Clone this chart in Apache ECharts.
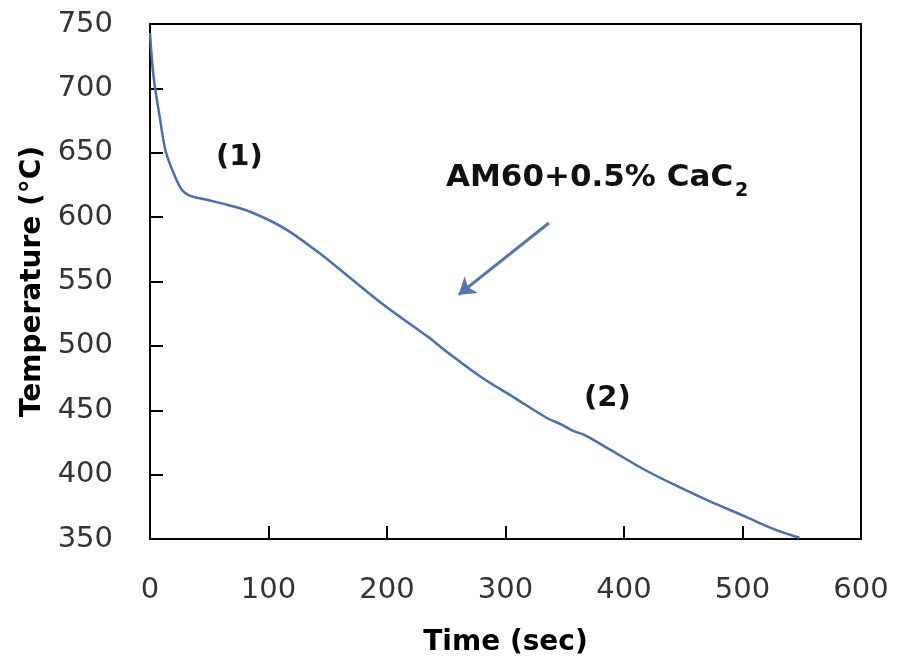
<!DOCTYPE html>
<html>
<head>
<meta charset="utf-8">
<script src="https://cdn.jsdelivr.net/npm/echarts@6/dist/echarts.min.js"></script>
<style>html,body{margin:0;padding:0;background:#fff;}#c{width:899px;height:666px;}</style>
</head>
<body>
<div id="c"></div>
<script>
const timeSec = [0, 2, 4, 8, 13, 20, 27, 34, 48, 65, 85, 113, 141, 169, 197, 234, 251, 279, 307, 335, 347, 357, 366, 389, 417, 445, 473, 501, 527, 548];
const tempC   = [743, 718, 702, 679, 652, 634, 621, 616.5, 613.5, 609.6, 604, 591.5, 573.4, 552.7, 532, 507.4, 495, 476, 460, 444, 439, 434, 431, 419, 404, 391, 379, 368, 357.5, 351];
const xTicks = [0, 100, 200, 300, 400, 500, 600];
const yTicks = [350, 400, 450, 500, 550, 600, 650, 700, 750];
const arrowFrom = [336.6, 595.4];
const arrowTo = [260.5, 539.8];

const chart = echarts.init(document.getElementById('c'), null, {renderer: 'canvas'});
const font = '"DejaVu Sans", sans-serif';
function txt(text, size) {
  return {text: text, fontFamily: font, fontWeight: 'bold', fontSize: size, fill: '#111'};
}
chart.setOption({
  animation: false,
  backgroundColor: '#fff',
  grid: {left: 150, right: 38, top: 24, bottom: 127, show: true, borderColor: '#000', borderWidth: 2, backgroundColor: 'transparent'},
  xAxis: {
    type: 'value', min: xTicks[0], max: xTicks[xTicks.length - 1], interval: 100,
    name: 'Time (sec)', nameLocation: 'middle', nameGap: 90,
    nameTextStyle: {fontFamily: font, fontWeight: 'bold', fontSize: 28, color: '#000'},
    axisLine: {show: true, lineStyle: {color: '#000', width: 2}},
    axisTick: {show: true, inside: true, length: 13, lineStyle: {color: '#000', width: 2}},
    axisLabel: {fontFamily: font, fontSize: 29, color: '#333', margin: 37},
    splitLine: {show: false}
  },
  yAxis: {
    type: 'value', min: yTicks[0], max: yTicks[yTicks.length - 1], interval: 50,
    name: 'Temperature (°C)', nameLocation: 'middle', nameGap: 103,
    nameTextStyle: {fontFamily: font, fontWeight: 'bold', fontSize: 28, color: '#000'},
    axisLine: {show: true, lineStyle: {color: '#000', width: 2}},
    axisTick: {show: true, inside: true, length: 13, lineStyle: {color: '#000', width: 2}},
    axisLabel: {fontFamily: font, fontSize: 29, color: '#333', margin: 37},
    splitLine: {show: false}
  },
  series: [{
    type: 'line',
    data: timeSec.map((t, i) => [t, tempC[i]]),
    showSymbol: false,
    smooth: 0.35,
    lineStyle: {color: '#4a6eb0', width: 2.5},
    markLine: {
      silent: true,
      symbol: ['none', 'arrow'],
      symbolSize: 16,
      label: {show: false},
      lineStyle: {color: '#5673b3', width: 3, type: 'solid'},
      data: [[{coord: arrowFrom}, {coord: arrowTo}]]
    }
  }],
  graphic: [
    {type: 'text', left: 216, top: 143, style: txt('(1)', 29)},
    {type: 'text', left: 584, top: 384, style: txt('(2)', 29)},
    {type: 'text', left: 446, top: 162, style: txt('AM60+0.5% CaC', 31)},
    {type: 'text', left: 735, top: 182, style: txt('2', 19)}
  ]
});
</script>
</body>
</html>
